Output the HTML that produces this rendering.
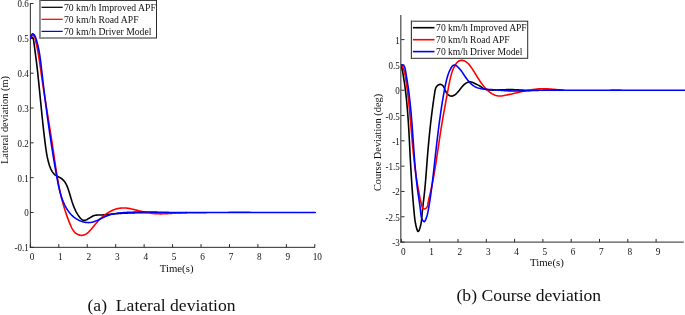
<!DOCTYPE html>
<html lang="en"><head><meta charset="utf-8"><title>Lateral and course deviation</title>
<style>
html,body{margin:0;padding:0;background:#fff;}
body{width:685px;height:315px;position:relative;overflow:hidden;font-family:"Liberation Serif","Times New Roman",serif;}
svg text{font-family:"Liberation Serif","Times New Roman",serif;}
</style></head><body>
<svg width="685" height="315" viewBox="0 0 685 315" style="display:block;position:absolute;left:0;top:0">
<rect x="0" y="0" width="685" height="315" fill="#fff"/>
<defs><clipPath id="cl"><rect x="30" y="0" width="290" height="247"/></clipPath><clipPath id="cr"><rect x="401" y="14" width="284" height="228"/></clipPath></defs>
<g stroke="#2a2a2a" stroke-width="1" fill="none" shape-rendering="auto">
<line x1="30.35" y1="3.02" x2="30.35" y2="247.83"/>
<line x1="29.85" y1="247.33" x2="315.10" y2="247.33"/>
<line x1="30.35" y1="247.33" x2="30.35" y2="244.13"/>
<line x1="58.80" y1="247.33" x2="58.80" y2="244.13"/>
<line x1="87.24" y1="247.33" x2="87.24" y2="244.13"/>
<line x1="115.69" y1="247.33" x2="115.69" y2="244.13"/>
<line x1="144.13" y1="247.33" x2="144.13" y2="244.13"/>
<line x1="172.57" y1="247.33" x2="172.57" y2="244.13"/>
<line x1="201.02" y1="247.33" x2="201.02" y2="244.13"/>
<line x1="229.47" y1="247.33" x2="229.47" y2="244.13"/>
<line x1="257.91" y1="247.33" x2="257.91" y2="244.13"/>
<line x1="286.36" y1="247.33" x2="286.36" y2="244.13"/>
<line x1="314.80" y1="247.33" x2="314.80" y2="244.13"/>
<line x1="30.35" y1="247.33" x2="33.550000000000004" y2="247.33"/>
<line x1="30.35" y1="212.50" x2="33.550000000000004" y2="212.50"/>
<line x1="30.35" y1="177.67" x2="33.550000000000004" y2="177.67"/>
<line x1="30.35" y1="142.84" x2="33.550000000000004" y2="142.84"/>
<line x1="30.35" y1="108.01" x2="33.550000000000004" y2="108.01"/>
<line x1="30.35" y1="73.18" x2="33.550000000000004" y2="73.18"/>
<line x1="30.35" y1="38.35" x2="33.550000000000004" y2="38.35"/>
<line x1="30.35" y1="3.52" x2="33.550000000000004" y2="3.52"/>
</g>
<g stroke="#2a2a2a" stroke-width="1" fill="none">
<line x1="400.8" y1="15" x2="400.8" y2="242.68" stroke="#555" stroke-width="1.3"/>
<line x1="400.2" y1="242.08" x2="683.8" y2="242.08" stroke="#555" stroke-width="1.3"/>
<line x1="401.40" y1="242.08" x2="401.40" y2="238.88"/>
<line x1="429.70" y1="242.08" x2="429.70" y2="238.88"/>
<line x1="458.00" y1="242.08" x2="458.00" y2="238.88"/>
<line x1="486.30" y1="242.08" x2="486.30" y2="238.88"/>
<line x1="514.60" y1="242.08" x2="514.60" y2="238.88"/>
<line x1="542.90" y1="242.08" x2="542.90" y2="238.88"/>
<line x1="571.20" y1="242.08" x2="571.20" y2="238.88"/>
<line x1="599.50" y1="242.08" x2="599.50" y2="238.88"/>
<line x1="627.80" y1="242.08" x2="627.80" y2="238.88"/>
<line x1="656.10" y1="242.08" x2="656.10" y2="238.88"/>
<line x1="401.3" y1="242.08" x2="404.5" y2="242.08"/>
<line x1="401.3" y1="216.77" x2="404.5" y2="216.77"/>
<line x1="401.3" y1="191.46" x2="404.5" y2="191.46"/>
<line x1="401.3" y1="166.15" x2="404.5" y2="166.15"/>
<line x1="401.3" y1="140.84" x2="404.5" y2="140.84"/>
<line x1="401.3" y1="115.53" x2="404.5" y2="115.53"/>
<line x1="401.3" y1="90.22" x2="404.5" y2="90.22"/>
<line x1="401.3" y1="64.91" x2="404.5" y2="64.91"/>
<line x1="401.3" y1="39.60" x2="404.5" y2="39.60"/>
</g>
<g fill="none" stroke-width="1.6" stroke-linejoin="round" stroke-linecap="round" clip-path="url(#cl)">
<path stroke="#000" d="M30.70,38.35 L31.21,37.70 L31.65,37.33 L32.05,37.21 L32.39,37.31 L32.70,37.61 L32.96,38.09 L33.19,38.71 L33.40,39.45 L33.57,40.29 L33.73,41.19 L33.87,42.14 L34.00,43.10 L34.13,44.06 L34.25,44.99 L34.37,45.90 L34.48,46.78 L34.60,47.64 L34.71,48.49 L34.82,49.31 L34.92,50.11 L35.02,50.90 L35.13,51.67 L35.23,52.42 L35.32,53.16 L35.42,53.89 L35.51,54.60 L35.60,55.30 L35.69,55.99 L35.78,56.68 L35.87,57.35 L35.96,58.02 L36.04,58.68 L36.12,59.33 L36.21,59.99 L36.29,60.64 L36.37,61.28 L36.45,61.93 L36.53,62.58 L36.61,63.22 L36.69,63.87 L36.77,64.53 L36.85,65.19 L36.92,65.85 L37.00,66.51 L37.08,67.18 L37.16,67.85 L37.23,68.53 L37.31,69.21 L37.39,69.89 L37.47,70.58 L37.54,71.27 L37.62,71.96 L37.70,72.65 L37.77,73.35 L37.85,74.05 L37.92,74.75 L38.00,75.46 L38.07,76.17 L38.15,76.88 L38.22,77.59 L38.30,78.30 L38.37,79.02 L38.45,79.74 L38.52,80.46 L38.60,81.18 L38.67,81.91 L38.75,82.63 L38.82,83.36 L38.89,84.09 L38.97,84.82 L39.04,85.55 L39.12,86.28 L39.19,87.02 L39.26,87.75 L39.34,88.49 L39.41,89.22 L39.48,89.96 L39.55,90.69 L39.63,91.43 L39.70,92.17 L39.77,92.91 L39.85,93.65 L39.92,94.39 L39.99,95.12 L40.06,95.86 L40.14,96.60 L40.21,97.34 L40.28,98.08 L40.35,98.81 L40.42,99.55 L40.50,100.29 L40.57,101.02 L40.64,101.76 L40.71,102.49 L40.79,103.22 L40.86,103.95 L40.93,104.68 L41.00,105.41 L41.07,106.14 L41.15,106.87 L41.22,107.59 L41.29,108.31 L41.36,109.04 L41.43,109.76 L41.51,110.48 L41.58,111.20 L41.65,111.92 L41.72,112.64 L41.80,113.36 L41.87,114.07 L41.94,114.79 L42.02,115.51 L42.09,116.22 L42.16,116.94 L42.24,117.65 L42.31,118.36 L42.39,119.08 L42.46,119.79 L42.54,120.50 L42.61,121.21 L42.69,121.92 L42.76,122.63 L42.84,123.34 L42.91,124.05 L42.99,124.76 L43.07,125.47 L43.15,126.18 L43.22,126.89 L43.30,127.60 L43.38,128.31 L43.46,129.02 L43.54,129.73 L43.62,130.44 L43.70,131.14 L43.78,131.85 L43.86,132.56 L43.95,133.27 L44.03,133.98 L44.11,134.69 L44.19,135.40 L44.28,136.11 L44.36,136.83 L44.45,137.54 L44.54,138.25 L44.62,138.96 L44.71,139.68 L44.80,140.39 L44.89,141.10 L44.98,141.82 L45.07,142.54 L45.16,143.25 L45.25,143.97 L45.34,144.69 L45.43,145.41 L45.53,146.12 L45.62,146.84 L45.72,147.56 L45.82,148.29 L45.92,149.01 L46.03,149.73 L46.14,150.45 L46.25,151.17 L46.36,151.89 L46.48,152.61 L46.60,153.33 L46.72,154.05 L46.85,154.77 L46.99,155.49 L47.12,156.21 L47.27,156.93 L47.42,157.64 L47.57,158.36 L47.73,159.07 L47.90,159.79 L48.07,160.50 L48.25,161.21 L48.44,161.92 L48.63,162.63 L48.83,163.34 L49.04,164.04 L49.25,164.75 L49.48,165.45 L49.71,166.15 L49.96,166.84 L50.22,167.52 L50.49,168.19 L50.78,168.86 L51.09,169.51 L51.41,170.15 L51.75,170.77 L52.11,171.37 L52.50,171.96 L52.90,172.53 L53.33,173.08 L53.79,173.60 L54.27,174.10 L54.78,174.57 L55.32,175.02 L55.89,175.44 L56.49,175.82 L57.12,176.18 L57.78,176.51 L58.45,176.84 L59.12,177.16 L59.78,177.50 L60.42,177.86 L61.04,178.25 L61.63,178.67 L62.20,179.11 L62.73,179.58 L63.24,180.07 L63.72,180.59 L64.17,181.13 L64.60,181.69 L65.01,182.27 L65.39,182.87 L65.76,183.49 L66.10,184.12 L66.42,184.76 L66.73,185.42 L67.03,186.09 L67.31,186.77 L67.58,187.45 L67.83,188.14 L68.08,188.84 L68.32,189.54 L68.55,190.24 L68.78,190.95 L69.00,191.65 L69.22,192.35 L69.43,193.06 L69.64,193.76 L69.85,194.46 L70.06,195.16 L70.27,195.85 L70.48,196.55 L70.68,197.25 L70.89,197.94 L71.10,198.63 L71.31,199.33 L71.52,200.01 L71.74,200.70 L71.95,201.39 L72.18,202.07 L72.40,202.75 L72.63,203.43 L72.87,204.11 L73.11,204.79 L73.36,205.46 L73.61,206.13 L73.87,206.79 L74.14,207.46 L74.42,208.12 L74.71,208.78 L75.00,209.43 L75.31,210.09 L75.63,210.74 L75.95,211.38 L76.29,212.02 L76.65,212.66 L77.01,213.30 L77.39,213.93 L77.78,214.56 L78.18,215.18 L78.60,215.80 L79.04,216.41 L79.49,217.03 L79.96,217.63 L80.44,218.21 L80.94,218.76 L81.47,219.25 L82.01,219.67 L82.58,220.00 L83.18,220.24 L83.79,220.35 L84.44,220.34 L85.10,220.23 L85.77,220.02 L86.44,219.75 L87.12,219.43 L87.79,219.07 L88.45,218.68 L89.10,218.28 L89.75,217.87 L90.40,217.47 L91.04,217.07 L91.69,216.69 L92.35,216.33 L93.00,216.01 L93.67,215.73 L94.35,215.50 L95.03,215.33 L95.73,215.20 L96.43,215.11 L97.14,215.06 L97.86,215.02 L98.58,215.01 L99.30,215.00 L100.02,215.00 L100.74,214.99 L101.47,214.97 L102.19,214.94 L102.91,214.91 L103.63,214.86 L104.36,214.81 L105.08,214.76 L105.80,214.70 L106.52,214.63 L107.24,214.56 L107.96,214.49 L108.68,214.42 L109.40,214.35 L110.12,214.27 L110.84,214.20 L111.56,214.13 L112.28,214.06 L113.00,213.99 L113.72,213.93 L114.44,213.87 L115.16,213.81 L115.88,213.75 L116.60,213.69 L117.32,213.64 L118.04,213.59 L118.76,213.54 L119.48,213.49 L120.20,213.44 L120.92,213.40 L121.64,213.36 L122.37,213.32 L123.09,213.28 L123.81,213.24 L124.53,213.20 L125.25,213.17 L125.97,213.14 L126.70,213.11 L127.42,213.08 L128.14,213.05 L128.86,213.02 L129.58,212.99 L130.31,212.97 L131.03,212.94 L131.75,212.92 L132.47,212.90 L133.20,212.88 L133.92,212.86 L134.64,212.84 L135.36,212.82 L136.08,212.80 L136.81,212.78 L137.53,212.76 L138.25,212.75 L138.97,212.73 L139.70,212.71 L140.42,212.70 L141.14,212.68 L141.86,212.67 L142.59,212.66 L143.31,212.64 L144.03,212.63 L144.75,212.62 L145.48,212.60 L146.20,212.59 L146.92,212.58 L147.65,212.57 L148.37,212.56 L149.09,212.55 L149.81,212.54 L150.54,212.53 L151.26,212.52 L151.98,212.51 L152.70,212.50 L153.43,212.49 L154.15,212.48 L154.87,212.47 L155.60,212.47 L156.32,212.46 L157.04,212.45 L157.76,212.45"/>
<path stroke="#f00" d="M30.70,38.35 L30.60,36.87 L31.06,35.97 L31.86,35.54 L32.76,35.50 L33.53,35.74 L34.09,36.19 L34.49,36.80 L34.77,37.51 L34.98,38.28 L35.19,39.06 L35.39,39.84 L35.58,40.62 L35.77,41.40 L35.96,42.19 L36.14,42.97 L36.31,43.75 L36.49,44.53 L36.66,45.31 L36.82,46.10 L36.99,46.88 L37.15,47.66 L37.30,48.45 L37.46,49.23 L37.61,50.02 L37.75,50.80 L37.90,51.59 L38.04,52.37 L38.18,53.16 L38.31,53.94 L38.45,54.73 L38.58,55.51 L38.71,56.30 L38.84,57.08 L38.96,57.87 L39.09,58.66 L39.21,59.44 L39.33,60.23 L39.45,61.02 L39.57,61.80 L39.68,62.59 L39.80,63.38 L39.91,64.16 L40.02,64.95 L40.14,65.74 L40.25,66.52 L40.36,67.31 L40.47,68.10 L40.58,68.88 L40.69,69.67 L40.80,70.46 L40.91,71.25 L41.02,72.03 L41.13,72.82 L41.24,73.61 L41.35,74.39 L41.46,75.18 L41.58,75.97 L41.69,76.75 L41.80,77.54 L41.92,78.32 L42.03,79.11 L42.15,79.90 L42.26,80.68 L42.38,81.47 L42.49,82.25 L42.61,83.04 L42.73,83.83 L42.85,84.61 L42.97,85.40 L43.08,86.18 L43.20,86.97 L43.32,87.75 L43.44,88.54 L43.57,89.32 L43.69,90.11 L43.81,90.90 L43.93,91.68 L44.05,92.47 L44.17,93.25 L44.30,94.04 L44.42,94.82 L44.54,95.61 L44.67,96.39 L44.79,97.18 L44.92,97.96 L45.04,98.75 L45.17,99.53 L45.29,100.32 L45.42,101.10 L45.54,101.89 L45.67,102.67 L45.80,103.45 L45.92,104.24 L46.05,105.02 L46.18,105.81 L46.30,106.59 L46.43,107.38 L46.56,108.16 L46.68,108.95 L46.81,109.73 L46.94,110.52 L47.07,111.30 L47.19,112.09 L47.32,112.87 L47.45,113.66 L47.58,114.44 L47.70,115.23 L47.83,116.01 L47.96,116.80 L48.09,117.58 L48.21,118.37 L48.34,119.15 L48.47,119.94 L48.60,120.72 L48.72,121.51 L48.85,122.29 L48.98,123.08 L49.10,123.86 L49.23,124.65 L49.36,125.43 L49.48,126.22 L49.61,127.00 L49.74,127.79 L49.86,128.57 L49.99,129.36 L50.11,130.15 L50.24,130.93 L50.37,131.72 L50.49,132.50 L50.61,133.29 L50.74,134.07 L50.86,134.86 L50.99,135.65 L51.11,136.43 L51.23,137.22 L51.36,138.01 L51.48,138.79 L51.60,139.58 L51.72,140.37 L51.84,141.15 L51.97,141.94 L52.09,142.73 L52.21,143.51 L52.33,144.30 L52.45,145.09 L52.56,145.87 L52.68,146.66 L52.80,147.45 L52.92,148.24 L53.03,149.02 L53.15,149.81 L53.27,150.60 L53.38,151.39 L53.50,152.18 L53.61,152.97 L53.73,153.75 L53.84,154.54 L53.96,155.33 L54.07,156.12 L54.19,156.91 L54.30,157.70 L54.41,158.48 L54.53,159.27 L54.64,160.06 L54.76,160.85 L54.87,161.64 L54.99,162.42 L55.10,163.21 L55.22,164.00 L55.34,164.79 L55.46,165.58 L55.57,166.36 L55.69,167.15 L55.81,167.94 L55.93,168.72 L56.05,169.51 L56.18,170.30 L56.30,171.08 L56.42,171.87 L56.55,172.66 L56.67,173.44 L56.80,174.23 L56.93,175.01 L57.06,175.80 L57.19,176.58 L57.32,177.36 L57.46,178.15 L57.59,178.93 L57.73,179.71 L57.87,180.50 L58.01,181.28 L58.15,182.06 L58.30,182.84 L58.44,183.62 L58.59,184.40 L58.74,185.18 L58.89,185.96 L59.05,186.74 L59.20,187.52 L59.36,188.30 L59.52,189.08 L59.68,189.85 L59.85,190.63 L60.01,191.41 L60.18,192.18 L60.35,192.96 L60.53,193.73 L60.71,194.50 L60.89,195.28 L61.07,196.05 L61.25,196.82 L61.44,197.59 L61.63,198.36 L61.82,199.13 L62.02,199.90 L62.22,200.67 L62.42,201.44 L62.63,202.20 L62.84,202.97 L63.05,203.74 L63.27,204.50 L63.48,205.26 L63.70,206.03 L63.93,206.79 L64.16,207.55 L64.39,208.31 L64.62,209.07 L64.86,209.83 L65.10,210.59 L65.35,211.35 L65.59,212.10 L65.85,212.86 L66.10,213.61 L66.36,214.37 L66.62,215.12 L66.89,215.87 L67.16,216.62 L67.43,217.37 L67.71,218.12 L67.99,218.87 L68.27,219.61 L68.56,220.36 L68.85,221.11 L69.15,221.85 L69.45,222.59 L69.75,223.33 L70.06,224.07 L70.37,224.81 L70.69,225.55 L71.01,226.29 L71.34,227.02 L71.68,227.74 L72.04,228.46 L72.43,229.15 L72.84,229.83 L73.28,230.49 L73.76,231.13 L74.27,231.73 L74.84,232.31 L75.44,232.85 L76.10,233.36 L76.79,233.82 L77.52,234.23 L78.27,234.59 L79.04,234.88 L79.81,235.11 L80.58,235.27 L81.35,235.35 L82.10,235.34 L82.84,235.26 L83.55,235.10 L84.26,234.87 L84.95,234.58 L85.62,234.23 L86.28,233.82 L86.93,233.37 L87.56,232.87 L88.18,232.34 L88.79,231.78 L89.39,231.19 L89.97,230.57 L90.54,229.95 L91.11,229.31 L91.66,228.66 L92.20,228.02 L92.73,227.38 L93.25,226.74 L93.76,226.12 L94.27,225.50 L94.78,224.89 L95.29,224.28 L95.79,223.68 L96.30,223.09 L96.81,222.50 L97.32,221.92 L97.84,221.34 L98.37,220.77 L98.91,220.20 L99.46,219.64 L100.03,219.09 L100.60,218.54 L101.18,217.99 L101.77,217.46 L102.37,216.93 L102.98,216.41 L103.60,215.90 L104.23,215.40 L104.87,214.91 L105.51,214.43 L106.17,213.96 L106.83,213.51 L107.50,213.07 L108.17,212.64 L108.86,212.23 L109.55,211.83 L110.25,211.45 L110.95,211.08 L111.66,210.73 L112.38,210.40 L113.10,210.09 L113.83,209.79 L114.56,209.52 L115.30,209.26 L116.05,209.03 L116.80,208.81 L117.55,208.62 L118.31,208.45 L119.07,208.30 L119.83,208.18 L120.60,208.08 L121.38,208.01 L122.15,207.96 L122.93,207.94 L123.71,207.94 L124.50,207.96 L125.28,208.01 L126.07,208.07 L126.86,208.16 L127.65,208.26 L128.44,208.38 L129.24,208.51 L130.03,208.66 L130.83,208.81 L131.63,208.98 L132.42,209.16 L133.22,209.35 L134.01,209.54 L134.81,209.74 L135.61,209.94 L136.40,210.14 L137.19,210.35 L137.98,210.55 L138.78,210.75 L139.56,210.95 L140.35,211.15 L141.13,211.34 L141.92,211.53 L142.70,211.70 L143.48,211.88 L144.26,212.05 L145.03,212.21 L145.81,212.36 L146.58,212.51 L147.36,212.65 L148.13,212.79 L148.91,212.92 L149.68,213.04 L150.46,213.15 L151.23,213.25 L152.01,213.35 L152.79,213.44 L153.56,213.52 L154.34,213.59 L155.12,213.65 L155.91,213.70 L156.69,213.74 L157.48,213.78 L158.26,213.80 L159.05,213.82 L159.84,213.83 L160.63,213.83 L161.43,213.83 L162.22,213.82 L163.02,213.80 L163.81,213.78 L164.61,213.75 L165.41,213.72 L166.20,213.69 L167.00,213.65 L167.80,213.61 L168.60,213.57 L169.40,213.52 L170.20,213.47 L171.00,213.42 L171.80,213.37 L172.60,213.32 L173.41,213.27 L174.21,213.22 L175.01,213.17 L175.80,213.12 L177.93,213.01 L180.05,212.90 L182.17,212.81 L184.28,212.73 L186.40,212.66"/>
<path stroke="#00f" d="M30.70,38.35 L31.05,36.57 L31.44,35.31 L31.87,34.48 L32.30,34.02 L32.75,33.87 L33.18,33.96 L33.60,34.21 L33.99,34.58 L34.35,35.03 L34.68,35.56 L35.00,36.15 L35.29,36.80 L35.56,37.50 L35.82,38.22 L36.07,38.97 L36.30,39.73 L36.53,40.49 L36.75,41.24 L36.96,42.00 L37.17,42.75 L37.37,43.51 L37.56,44.26 L37.75,45.01 L37.93,45.76 L38.10,46.50 L38.27,47.25 L38.43,47.99 L38.59,48.74 L38.74,49.48 L38.89,50.22 L39.03,50.96 L39.17,51.70 L39.30,52.44 L39.43,53.18 L39.55,53.92 L39.67,54.65 L39.79,55.39 L39.90,56.13 L40.02,56.86 L40.12,57.59 L40.23,58.33 L40.33,59.06 L40.43,59.79 L40.52,60.52 L40.62,61.26 L40.71,61.99 L40.80,62.72 L40.89,63.45 L40.97,64.18 L41.06,64.91 L41.15,65.64 L41.23,66.37 L41.31,67.10 L41.40,67.83 L41.48,68.56 L41.56,69.29 L41.64,70.02 L41.73,70.75 L41.81,71.48 L41.89,72.21 L41.98,72.94 L42.06,73.68 L42.14,74.41 L42.23,75.14 L42.31,75.87 L42.40,76.60 L42.48,77.34 L42.57,78.07 L42.65,78.80 L42.74,79.53 L42.82,80.27 L42.91,81.00 L43.00,81.73 L43.08,82.47 L43.17,83.20 L43.26,83.93 L43.34,84.67 L43.43,85.40 L43.52,86.13 L43.61,86.87 L43.70,87.60 L43.78,88.34 L43.87,89.07 L43.96,89.81 L44.05,90.54 L44.14,91.28 L44.23,92.01 L44.32,92.75 L44.41,93.48 L44.50,94.22 L44.59,94.95 L44.68,95.69 L44.77,96.42 L44.87,97.16 L44.96,97.89 L45.05,98.63 L45.14,99.37 L45.24,100.10 L45.33,100.84 L45.42,101.57 L45.52,102.31 L45.61,103.05 L45.70,103.78 L45.80,104.52 L45.89,105.26 L45.99,105.99 L46.08,106.73 L46.18,107.47 L46.27,108.20 L46.37,108.94 L46.47,109.68 L46.56,110.41 L46.66,111.15 L46.76,111.89 L46.86,112.62 L46.96,113.36 L47.05,114.10 L47.15,114.83 L47.25,115.57 L47.35,116.31 L47.45,117.04 L47.55,117.78 L47.65,118.52 L47.75,119.26 L47.85,119.99 L47.95,120.73 L48.06,121.47 L48.16,122.20 L48.26,122.94 L48.36,123.68 L48.47,124.42 L48.57,125.15 L48.67,125.89 L48.78,126.63 L48.88,127.36 L48.99,128.10 L49.09,128.84 L49.20,129.57 L49.30,130.31 L49.41,131.05 L49.51,131.78 L49.62,132.52 L49.73,133.26 L49.84,134.00 L49.94,134.73 L50.05,135.47 L50.16,136.20 L50.27,136.94 L50.38,137.68 L50.49,138.41 L50.60,139.15 L50.71,139.89 L50.82,140.62 L50.93,141.36 L51.04,142.09 L51.15,142.83 L51.27,143.57 L51.38,144.30 L51.49,145.04 L51.61,145.77 L51.72,146.51 L51.83,147.24 L51.95,147.98 L52.06,148.71 L52.18,149.45 L52.30,150.18 L52.41,150.92 L52.53,151.65 L52.65,152.39 L52.76,153.12 L52.88,153.86 L53.00,154.59 L53.12,155.33 L53.24,156.06 L53.36,156.79 L53.48,157.53 L53.60,158.26 L53.72,158.99 L53.84,159.73 L53.96,160.46 L54.08,161.19 L54.21,161.93 L54.33,162.66 L54.45,163.39 L54.58,164.12 L54.70,164.86 L54.83,165.59 L54.95,166.32 L55.08,167.05 L55.20,167.78 L55.33,168.52 L55.46,169.25 L55.58,169.98 L55.71,170.71 L55.84,171.44 L55.97,172.17 L56.10,172.90 L56.23,173.63 L56.36,174.36 L56.49,175.09 L56.62,175.82 L56.75,176.55 L56.88,177.28 L57.01,178.01 L57.15,178.74 L57.28,179.46 L57.41,180.19 L57.55,180.92 L57.69,181.65 L57.83,182.37 L57.97,183.10 L58.11,183.82 L58.26,184.55 L58.41,185.27 L58.56,186.00 L58.71,186.72 L58.87,187.44 L59.03,188.16 L59.20,188.88 L59.37,189.60 L59.55,190.31 L59.72,191.03 L59.91,191.74 L60.10,192.46 L60.29,193.17 L60.50,193.88 L60.70,194.59 L60.92,195.29 L61.13,196.00 L61.36,196.70 L61.59,197.40 L61.83,198.10 L62.08,198.80 L62.34,199.50 L62.60,200.19 L62.87,200.88 L63.15,201.57 L63.44,202.26 L63.74,202.94 L64.05,203.63 L64.36,204.31 L64.69,204.98 L65.02,205.65 L65.37,206.32 L65.73,206.98 L66.09,207.63 L66.47,208.28 L66.86,208.92 L67.26,209.56 L67.67,210.18 L68.09,210.80 L68.53,211.40 L68.98,212.00 L69.44,212.59 L69.91,213.16 L70.40,213.73 L70.90,214.28 L71.41,214.82 L71.94,215.35 L72.48,215.86 L73.03,216.36 L73.60,216.85 L74.19,217.32 L74.79,217.77 L75.40,218.21 L76.02,218.63 L76.66,219.03 L77.31,219.41 L77.97,219.78 L78.64,220.12 L79.31,220.45 L80.00,220.76 L80.69,221.04 L81.39,221.30 L82.10,221.54 L82.81,221.76 L83.52,221.95 L84.24,222.12 L84.97,222.26 L85.69,222.38 L86.42,222.47 L87.14,222.54 L87.87,222.57 L88.60,222.58 L89.32,222.57 L90.04,222.52 L90.76,222.44 L91.47,222.33 L92.19,222.20 L92.89,222.03 L93.59,221.83 L94.29,221.62 L94.99,221.37 L95.68,221.11 L96.37,220.83 L97.06,220.54 L97.74,220.23 L98.43,219.91 L99.11,219.58 L99.80,219.24 L100.48,218.90 L101.16,218.55 L101.84,218.20 L102.53,217.86 L103.21,217.51 L103.89,217.17 L104.58,216.84 L105.27,216.52 L105.96,216.22 L106.66,215.92 L107.35,215.64 L108.06,215.38 L108.76,215.14 L109.46,214.91 L110.17,214.69 L110.89,214.49 L111.60,214.30 L112.32,214.13 L113.04,213.96 L113.76,213.81 L114.48,213.67 L115.20,213.54 L115.93,213.42 L116.66,213.31 L117.39,213.21 L118.12,213.12 L118.85,213.03 L119.59,212.95 L120.32,212.88 L121.06,212.81 L121.79,212.75 L122.53,212.69 L123.27,212.64 L124.00,212.59 L124.74,212.55 L125.48,212.50 L126.22,212.46 L126.96,212.42 L127.70,212.38 L128.44,212.35 L129.17,212.31 L129.91,212.28 L130.65,212.25 L131.39,212.23 L132.13,212.20 L132.87,212.18 L133.61,212.16 L134.35,212.14 L135.09,212.12 L135.83,212.10 L136.57,212.09 L137.31,212.08 L138.06,212.07 L138.80,212.06 L139.54,212.05 L140.28,212.04 L141.02,212.04 L141.76,212.03 L142.50,212.03 L143.24,212.03 L143.99,212.03 L144.73,212.03 L145.47,212.03 L146.21,212.04 L146.95,212.04 L147.70,212.05 L148.44,212.05 L149.18,212.06 L149.92,212.07 L150.66,212.08 L151.41,212.09 L152.15,212.10 L152.89,212.11 L153.64,212.12 L154.38,212.13 L155.12,212.14 L155.86,212.16 L156.61,212.17 L157.35,212.19 L158.09,212.20 L158.83,212.21 L159.58,212.23 L160.32,212.24 L161.06,212.26 L161.81,212.28 L162.55,212.29 L163.29,212.31 L164.04,212.32 L164.78,212.34 L165.52,212.35 L166.26,212.37 L167.01,212.39 L167.75,212.40 L168.49,212.41 L169.24,212.43 L169.98,212.44 L170.72,212.46 L171.47,212.47 L172.21,212.48 L172.95,212.50 L175.14,212.53 L177.33,212.56 L179.52,212.58 L181.71,212.60 L183.90,212.61 L186.09,212.62 L188.28,212.63 L190.47,212.63 L192.65,212.63 L194.84,212.63 L197.03,212.63 L199.22,212.62 L201.41,212.61 L203.59,212.60 L205.78,212.59 L207.97,212.57 L210.16,212.56 L212.34,212.54 L214.53,212.53 L216.72,212.51 L218.91,212.49 L221.09,212.48 L223.28,212.46 L225.47,212.45 L227.66,212.43 L229.84,212.42 L232.03,212.41 L234.22,212.40 L236.41,212.40 L238.60,212.39 L240.79,212.39 L242.97,212.39 L245.16,212.40 L247.35,212.40 L249.54,212.41 L251.73,212.43 L253.92,212.45 L256.11,212.47 L258.30,212.50 L315.20,212.50"/>
</g>
<g fill="none" stroke-width="1.6" stroke-linejoin="round" stroke-linecap="round" clip-path="url(#cr)">
<path stroke="#000" d="M401.30,64.91 L401.52,65.98 L401.73,67.05 L401.94,68.13 L402.15,69.20 L402.35,70.27 L402.55,71.35 L402.74,72.42 L402.93,73.50 L403.12,74.57 L403.30,75.65 L403.48,76.72 L403.65,77.80 L403.83,78.87 L403.99,79.95 L404.16,81.03 L404.32,82.10 L404.47,83.18 L404.63,84.26 L404.78,85.33 L404.93,86.41 L405.07,87.49 L405.21,88.57 L405.35,89.65 L405.48,90.72 L405.61,91.80 L405.74,92.88 L405.87,93.96 L405.99,95.04 L406.11,96.12 L406.23,97.20 L406.35,98.28 L406.46,99.36 L406.57,100.44 L406.68,101.52 L406.78,102.61 L406.88,103.69 L406.98,104.77 L407.08,105.85 L407.18,106.93 L407.27,108.02 L407.37,109.10 L407.46,110.18 L407.54,111.27 L407.63,112.35 L407.71,113.43 L407.80,114.52 L407.88,115.60 L407.96,116.69 L408.03,117.77 L408.11,118.86 L408.18,119.94 L408.26,121.03 L408.33,122.11 L408.40,123.20 L408.47,124.29 L408.54,125.37 L408.60,126.46 L408.67,127.55 L408.73,128.63 L408.80,129.72 L408.86,130.81 L408.92,131.90 L408.98,132.98 L409.04,134.07 L409.10,135.16 L409.16,136.25 L409.22,137.34 L409.27,138.43 L409.33,139.52 L409.39,140.61 L409.44,141.70 L409.50,142.79 L409.55,143.88 L409.61,144.97 L409.66,146.06 L409.72,147.15 L409.77,148.24 L409.83,149.34 L409.88,150.43 L409.94,151.52 L410.00,152.61 L410.05,153.71 L410.11,154.80 L410.16,155.89 L410.22,156.98 L410.28,158.08 L410.33,159.17 L410.39,160.27 L410.45,161.36 L410.51,162.45 L410.57,163.55 L410.63,164.64 L410.69,165.74 L410.76,166.83 L410.82,167.93 L410.88,169.02 L410.95,170.12 L411.01,171.21 L411.08,172.30 L411.14,173.40 L411.21,174.49 L411.28,175.58 L411.35,176.68 L411.42,177.77 L411.49,178.86 L411.56,179.95 L411.63,181.04 L411.70,182.13 L411.77,183.22 L411.85,184.31 L411.92,185.40 L412.00,186.49 L412.08,187.57 L412.15,188.66 L412.23,189.75 L412.31,190.83 L412.39,191.91 L412.47,192.99 L412.56,194.08 L412.64,195.15 L412.72,196.23 L412.81,197.31 L412.89,198.39 L412.98,199.46 L413.07,200.54 L413.16,201.61 L413.25,202.68 L413.34,203.75 L413.43,204.81 L413.52,205.88 L413.62,206.95 L413.71,208.01 L413.81,209.07 L413.90,210.13 L414.00,211.19 L414.10,212.24 L414.20,213.30 L414.30,214.35 L414.40,215.40 L414.51,216.45 L414.63,217.51 L414.75,218.58 L414.89,219.66 L415.05,220.75 L415.22,221.87 L415.42,223.00 L415.64,224.17 L415.89,225.36 L416.17,226.58 L416.49,227.85 L416.84,229.10 L417.23,230.22 L417.64,231.05 L418.07,231.44 L418.52,231.28 L418.98,230.61 L419.42,229.59 L419.84,228.35 L420.22,227.06 L420.54,225.81 L420.82,224.61 L421.05,223.45 L421.25,222.33 L421.41,221.24 L421.55,220.17 L421.66,219.13 L421.76,218.10 L421.85,217.08 L421.93,216.06 L422.01,215.05 L422.10,214.02 L422.19,212.99 L422.28,211.95 L422.39,210.90 L422.50,209.85 L422.61,208.78 L422.73,207.71 L422.85,206.64 L422.98,205.56 L423.10,204.47 L423.23,203.39 L423.36,202.29 L423.49,201.20 L423.63,200.10 L423.76,199.00 L423.89,197.90 L424.01,196.80 L424.14,195.70 L424.26,194.60 L424.38,193.50 L424.49,192.40 L424.61,191.30 L424.72,190.20 L424.82,189.10 L424.93,188.01 L425.03,186.91 L425.13,185.82 L425.23,184.72 L425.33,183.63 L425.42,182.53 L425.52,181.44 L425.61,180.35 L425.70,179.25 L425.79,178.16 L425.87,177.07 L425.96,175.98 L426.04,174.89 L426.13,173.81 L426.21,172.72 L426.29,171.63 L426.38,170.54 L426.46,169.46 L426.54,168.37 L426.62,167.29 L426.70,166.20 L426.79,165.12 L426.87,164.04 L426.95,162.95 L427.03,161.87 L427.12,160.79 L427.20,159.71 L427.28,158.63 L427.37,157.55 L427.46,156.47 L427.54,155.39 L427.63,154.32 L427.72,153.24 L427.81,152.16 L427.90,151.09 L428.00,150.01 L428.09,148.93 L428.18,147.86 L428.28,146.78 L428.37,145.71 L428.47,144.63 L428.57,143.56 L428.67,142.48 L428.77,141.40 L428.87,140.33 L428.97,139.25 L429.08,138.18 L429.18,137.10 L429.29,136.03 L429.40,134.95 L429.50,133.87 L429.61,132.80 L429.73,131.72 L429.84,130.64 L429.95,129.56 L430.07,128.48 L430.19,127.40 L430.30,126.33 L430.42,125.24 L430.54,124.16 L430.67,123.08 L430.79,122.00 L430.92,120.92 L431.04,119.83 L431.17,118.75 L431.30,117.66 L431.43,116.57 L431.56,115.49 L431.70,114.40 L431.84,113.31 L431.97,112.22 L432.11,111.13 L432.25,110.03 L432.40,108.94 L432.54,107.84 L432.69,106.75 L432.84,105.65 L432.99,104.55 L433.14,103.45 L433.29,102.35 L433.45,101.24 L433.60,100.14 L433.76,99.03 L433.92,97.92 L434.09,96.81 L434.25,95.70 L434.42,94.59 L434.59,93.47 L434.76,92.35 L434.94,91.24 L435.15,90.16 L435.42,89.11 L435.75,88.12 L436.16,87.21 L436.69,86.38 L437.33,85.66 L438.12,85.07 L439.06,84.62 L440.10,84.40 L441.13,84.53 L442.09,84.99 L442.91,85.68 L443.55,86.53 L444.06,87.48 L444.50,88.52 L444.91,89.59 L445.38,90.68 L445.93,91.75 L446.58,92.77 L447.30,93.71 L448.10,94.54 L448.95,95.23 L449.84,95.75 L450.77,96.06 L451.72,96.14 L452.68,95.97 L453.64,95.58 L454.58,95.02 L455.50,94.33 L456.37,93.55 L457.18,92.74 L457.95,91.89 L458.68,91.03 L459.38,90.16 L460.07,89.29 L460.74,88.42 L461.41,87.57 L462.10,86.74 L462.81,85.93 L463.56,85.17 L464.34,84.45 L465.18,83.78 L466.08,83.16 L467.06,82.63 L468.08,82.20 L469.13,81.93 L470.20,81.85 L471.25,82.00 L472.29,82.32 L473.32,82.75 L474.34,83.23 L475.34,83.71 L476.33,84.16 L477.31,84.62 L478.27,85.10 L479.22,85.63 L480.16,86.22 L481.09,86.87 L482.02,87.52 L482.97,88.12 L483.94,88.63 L484.93,89.04 L485.95,89.37 L486.99,89.63 L488.05,89.81 L489.11,89.94 L490.19,90.02 L491.28,90.07 L492.37,90.08 L493.46,90.08 L494.56,90.06 L495.65,90.03 L496.74,90.00 L497.83,89.97 L498.92,89.93 L500.01,89.88 L501.10,89.84 L502.18,89.80 L503.27,89.76 L504.36,89.72 L505.44,89.68 L506.53,89.65 L507.61,89.63 L508.70,89.61 L509.79,89.61 L510.87,89.61 L511.96,89.63 L513.05,89.66 L514.14,89.70 L515.22,89.74 L516.31,89.80 L517.40,89.86 L518.49,89.92 L519.58,89.99 L520.67,90.05 L521.76,90.10 L522.85,90.15 L523.94,90.20 L525.03,90.24 L526.12,90.28 L527.21,90.31 L528.30,90.34 L529.39,90.36"/>
<path stroke="#f00" d="M401.30,64.91 L401.91,65.77 L402.45,66.67 L402.93,67.59 L403.35,68.53 L403.72,69.49 L404.05,70.48 L404.34,71.48 L404.59,72.49 L404.81,73.52 L405.02,74.55 L405.20,75.59 L405.38,76.64 L405.55,77.69 L405.72,78.73 L405.88,79.78 L406.04,80.83 L406.20,81.88 L406.35,82.93 L406.50,83.98 L406.65,85.03 L406.80,86.08 L406.94,87.13 L407.08,88.18 L407.22,89.24 L407.36,90.29 L407.49,91.34 L407.62,92.40 L407.75,93.45 L407.88,94.50 L408.00,95.56 L408.12,96.62 L408.24,97.67 L408.36,98.73 L408.48,99.78 L408.59,100.84 L408.71,101.90 L408.82,102.95 L408.93,104.01 L409.03,105.07 L409.14,106.13 L409.24,107.18 L409.35,108.24 L409.45,109.30 L409.55,110.36 L409.65,111.42 L409.75,112.47 L409.85,113.53 L409.94,114.59 L410.04,115.65 L410.13,116.71 L410.23,117.77 L410.32,118.83 L410.41,119.88 L410.50,120.94 L410.59,122.00 L410.68,123.06 L410.77,124.12 L410.86,125.18 L410.95,126.23 L411.04,127.29 L411.13,128.35 L411.22,129.41 L411.31,130.46 L411.40,131.52 L411.49,132.58 L411.58,133.63 L411.67,134.69 L411.76,135.74 L411.85,136.80 L411.94,137.85 L412.03,138.91 L412.12,139.96 L412.22,141.02 L412.31,142.07 L412.40,143.12 L412.50,144.18 L412.59,145.23 L412.69,146.28 L412.79,147.33 L412.89,148.38 L412.99,149.43 L413.09,150.48 L413.19,151.53 L413.29,152.58 L413.40,153.63 L413.51,154.67 L413.61,155.72 L413.72,156.77 L413.83,157.81 L413.95,158.86 L414.06,159.90 L414.18,160.94 L414.30,161.98 L414.42,163.03 L414.54,164.07 L414.67,165.11 L414.79,166.15 L414.92,167.19 L415.06,168.23 L415.19,169.27 L415.33,170.31 L415.46,171.35 L415.61,172.39 L415.75,173.43 L415.90,174.47 L416.05,175.51 L416.20,176.56 L416.36,177.60 L416.51,178.64 L416.68,179.69 L416.84,180.73 L417.01,181.78 L417.18,182.82 L417.36,183.87 L417.53,184.92 L417.71,185.97 L417.90,187.03 L418.09,188.08 L418.28,189.14 L418.48,190.19 L418.68,191.25 L418.88,192.31 L419.09,193.38 L419.30,194.44 L419.51,195.51 L419.73,196.58 L419.96,197.65 L420.19,198.72 L420.42,199.80 L420.65,200.88 L420.90,201.96 L421.14,203.04 L421.39,204.13 L421.65,205.22 L421.93,206.28 L422.27,207.25 L422.71,208.06 L423.30,208.64 L424.06,208.94 L424.91,208.87 L425.75,208.46 L426.50,207.78 L427.08,206.93 L427.50,205.96 L427.79,204.89 L428.01,203.76 L428.19,202.61 L428.37,201.47 L428.57,200.37 L428.79,199.29 L429.02,198.24 L429.26,197.21 L429.51,196.18 L429.76,195.16 L430.01,194.14 L430.25,193.12 L430.48,192.10 L430.72,191.07 L430.95,190.05 L431.18,189.02 L431.40,187.99 L431.62,186.96 L431.83,185.93 L432.05,184.90 L432.26,183.87 L432.47,182.83 L432.67,181.80 L432.87,180.76 L433.07,179.73 L433.26,178.69 L433.46,177.65 L433.65,176.61 L433.84,175.57 L434.02,174.53 L434.21,173.49 L434.39,172.45 L434.57,171.41 L434.74,170.36 L434.92,169.32 L435.09,168.27 L435.26,167.23 L435.43,166.18 L435.60,165.13 L435.77,164.09 L435.93,163.04 L436.10,161.99 L436.26,160.94 L436.42,159.89 L436.58,158.84 L436.74,157.80 L436.90,156.75 L437.05,155.70 L437.21,154.65 L437.37,153.60 L437.52,152.54 L437.68,151.49 L437.83,150.44 L437.99,149.39 L438.14,148.34 L438.29,147.29 L438.45,146.24 L438.60,145.19 L438.76,144.14 L438.91,143.09 L439.06,142.04 L439.22,140.99 L439.37,139.94 L439.53,138.89 L439.68,137.84 L439.84,136.79 L440.00,135.74 L440.16,134.69 L440.32,133.64 L440.48,132.60 L440.64,131.55 L440.80,130.50 L440.97,129.46 L441.13,128.41 L441.30,127.37 L441.47,126.32 L441.64,125.28 L441.81,124.23 L441.98,123.19 L442.16,122.15 L442.33,121.11 L442.51,120.07 L442.69,119.03 L442.87,117.99 L443.05,116.95 L443.23,115.91 L443.42,114.87 L443.60,113.83 L443.79,112.79 L443.98,111.75 L444.16,110.71 L444.35,109.67 L444.54,108.63 L444.73,107.59 L444.92,106.55 L445.11,105.51 L445.30,104.47 L445.50,103.43 L445.69,102.39 L445.88,101.35 L446.07,100.30 L446.26,99.26 L446.46,98.22 L446.65,97.17 L446.84,96.12 L447.03,95.08 L447.22,94.03 L447.41,92.98 L447.60,91.93 L447.80,90.88 L447.99,89.83 L448.18,88.78 L448.38,87.74 L448.58,86.69 L448.78,85.64 L448.99,84.60 L449.20,83.56 L449.41,82.52 L449.63,81.48 L449.86,80.45 L450.09,79.43 L450.33,78.40 L450.58,77.38 L450.83,76.37 L451.09,75.36 L451.37,74.36 L451.65,73.37 L451.96,72.38 L452.28,71.39 L452.63,70.41 L453.01,69.44 L453.42,68.46 L453.87,67.50 L454.36,66.53 L454.90,65.57 L455.49,64.61 L456.13,63.66 L456.83,62.76 L457.59,61.95 L458.42,61.27 L459.30,60.76 L460.26,60.45 L461.25,60.32 L462.27,60.36 L463.29,60.55 L464.30,60.88 L465.28,61.33 L466.20,61.89 L467.06,62.53 L467.87,63.25 L468.62,64.03 L469.33,64.86 L470.01,65.72 L470.66,66.60 L471.28,67.49 L471.89,68.37 L472.49,69.26 L473.07,70.15 L473.64,71.04 L474.20,71.93 L474.75,72.82 L475.30,73.71 L475.84,74.59 L476.39,75.48 L476.93,76.36 L477.47,77.24 L478.02,78.12 L478.58,79.00 L479.14,79.87 L479.71,80.74 L480.30,81.61 L480.90,82.47 L481.51,83.33 L482.15,84.19 L482.80,85.05 L483.48,85.90 L484.17,86.74 L484.89,87.57 L485.63,88.38 L486.39,89.18 L487.17,89.95 L487.97,90.69 L488.79,91.41 L489.63,92.08 L490.49,92.72 L491.37,93.31 L492.27,93.85 L493.18,94.35 L494.11,94.78 L495.06,95.16 L496.03,95.47 L497.01,95.71 L498.01,95.88 L499.02,95.97 L500.05,95.99 L501.09,95.94 L502.14,95.83 L503.19,95.68 L504.25,95.50 L505.31,95.30 L506.37,95.08 L507.43,94.86 L508.48,94.63 L509.54,94.40 L510.59,94.17 L511.63,93.93 L512.68,93.69 L513.72,93.45 L514.76,93.21 L515.80,92.97 L516.84,92.73 L517.88,92.48 L518.91,92.25 L519.95,92.01 L520.98,91.78 L522.01,91.55 L523.05,91.32 L524.08,91.10 L525.11,90.89 L526.14,90.68 L527.18,90.48 L528.21,90.28 L529.24,90.10 L530.28,89.92 L531.31,89.75 L532.35,89.60 L533.38,89.45 L534.42,89.32 L535.46,89.19 L536.50,89.08 L537.54,88.99 L538.59,88.91 L539.63,88.84 L540.68,88.79 L541.73,88.75 L542.78,88.73 L543.84,88.73 L544.90,88.74 L545.96,88.77 L547.02,88.82 L548.08,88.87 L549.15,88.94 L550.21,89.01 L551.28,89.09 L552.35,89.18 L553.42,89.28 L554.49,89.37 L555.55,89.48 L556.62,89.58 L557.69,89.68 L558.76,89.78 L559.83,89.88 L560.90,89.97 L561.96,90.06"/>
<path stroke="#00f" d="M401.30,64.91 L402.39,65.03 L403.26,65.40 L403.93,65.99 L404.44,66.75 L404.82,67.66 L405.11,68.66 L405.33,69.73 L405.53,70.83 L405.71,71.92 L405.90,73.01 L406.08,74.08 L406.26,75.16 L406.43,76.22 L406.61,77.28 L406.78,78.33 L406.95,79.38 L407.12,80.43 L407.28,81.47 L407.44,82.51 L407.60,83.55 L407.76,84.58 L407.92,85.61 L408.07,86.64 L408.22,87.68 L408.36,88.71 L408.51,89.74 L408.65,90.77 L408.79,91.80 L408.92,92.84 L409.05,93.87 L409.19,94.91 L409.31,95.95 L409.44,96.98 L409.56,98.02 L409.68,99.06 L409.80,100.10 L409.92,101.15 L410.03,102.19 L410.14,103.23 L410.25,104.27 L410.36,105.32 L410.46,106.36 L410.57,107.41 L410.67,108.46 L410.77,109.51 L410.87,110.55 L410.96,111.60 L411.06,112.65 L411.15,113.70 L411.24,114.75 L411.33,115.80 L411.42,116.85 L411.51,117.91 L411.60,118.96 L411.68,120.01 L411.77,121.07 L411.85,122.12 L411.93,123.17 L412.01,124.23 L412.09,125.28 L412.17,126.34 L412.25,127.39 L412.33,128.45 L412.41,129.51 L412.48,130.56 L412.56,131.62 L412.63,132.68 L412.71,133.73 L412.78,134.79 L412.86,135.85 L412.93,136.90 L413.00,137.96 L413.08,139.02 L413.15,140.08 L413.22,141.13 L413.30,142.19 L413.37,143.25 L413.44,144.31 L413.52,145.37 L413.59,146.42 L413.66,147.48 L413.74,148.54 L413.81,149.60 L413.89,150.65 L413.97,151.71 L414.04,152.77 L414.12,153.82 L414.20,154.88 L414.28,155.93 L414.35,156.99 L414.43,158.05 L414.52,159.10 L414.60,160.16 L414.68,161.21 L414.77,162.26 L414.85,163.32 L414.94,164.37 L415.03,165.42 L415.11,166.48 L415.21,167.53 L415.30,168.58 L415.39,169.63 L415.49,170.68 L415.58,171.73 L415.68,172.78 L415.78,173.83 L415.88,174.87 L415.99,175.92 L416.09,176.97 L416.20,178.01 L416.31,179.06 L416.42,180.10 L416.54,181.14 L416.65,182.19 L416.77,183.23 L416.89,184.27 L417.02,185.31 L417.14,186.35 L417.27,187.39 L417.40,188.43 L417.53,189.46 L417.67,190.50 L417.81,191.53 L417.95,192.57 L418.09,193.60 L418.24,194.63 L418.39,195.66 L418.54,196.69 L418.70,197.72 L418.86,198.75 L419.01,199.78 L419.17,200.81 L419.33,201.85 L419.48,202.89 L419.63,203.93 L419.78,204.98 L419.93,206.03 L420.07,207.09 L420.20,208.16 L420.33,209.23 L420.46,210.31 L420.57,211.40 L420.68,212.50 L420.79,213.61 L420.92,214.71 L421.08,215.80 L421.30,216.87 L421.58,217.91 L421.95,218.90 L422.43,219.85 L423.03,220.74 L423.72,221.43 L424.38,221.61 L424.94,221.13 L425.42,220.23 L425.85,219.19 L426.24,218.14 L426.59,217.10 L426.91,216.06 L427.20,215.02 L427.46,213.98 L427.71,212.95 L427.93,211.91 L428.14,210.88 L428.33,209.84 L428.52,208.81 L428.71,207.77 L428.88,206.74 L429.06,205.70 L429.23,204.67 L429.40,203.63 L429.57,202.59 L429.74,201.55 L429.90,200.51 L430.06,199.47 L430.21,198.43 L430.37,197.39 L430.52,196.35 L430.67,195.31 L430.82,194.26 L430.96,193.22 L431.11,192.18 L431.25,191.13 L431.39,190.09 L431.52,189.04 L431.66,188.00 L431.79,186.95 L431.93,185.91 L432.06,184.86 L432.19,183.81 L432.31,182.77 L432.44,181.72 L432.57,180.67 L432.69,179.62 L432.81,178.58 L432.93,177.53 L433.06,176.48 L433.18,175.43 L433.30,174.38 L433.41,173.33 L433.53,172.29 L433.65,171.24 L433.77,170.19 L433.88,169.14 L434.00,168.09 L434.12,167.04 L434.23,165.99 L434.35,164.95 L434.46,163.90 L434.58,162.85 L434.69,161.80 L434.81,160.75 L434.93,159.70 L435.04,158.66 L435.16,157.61 L435.27,156.56 L435.39,155.51 L435.51,154.46 L435.62,153.42 L435.74,152.37 L435.86,151.32 L435.98,150.27 L436.09,149.22 L436.21,148.18 L436.33,147.13 L436.45,146.08 L436.57,145.04 L436.69,143.99 L436.81,142.94 L436.93,141.89 L437.06,140.85 L437.18,139.80 L437.30,138.75 L437.43,137.71 L437.55,136.66 L437.68,135.61 L437.81,134.57 L437.93,133.52 L438.06,132.48 L438.19,131.43 L438.32,130.38 L438.45,129.34 L438.59,128.29 L438.72,127.25 L438.85,126.20 L438.99,125.16 L439.13,124.11 L439.26,123.07 L439.40,122.02 L439.54,120.98 L439.68,119.93 L439.83,118.89 L439.97,117.84 L440.12,116.80 L440.26,115.75 L440.41,114.71 L440.56,113.67 L440.71,112.62 L440.87,111.58 L441.02,110.53 L441.18,109.49 L441.33,108.45 L441.49,107.40 L441.65,106.36 L441.81,105.32 L441.98,104.27 L442.14,103.23 L442.31,102.19 L442.48,101.14 L442.65,100.10 L442.83,99.06 L443.00,98.02 L443.18,96.98 L443.36,95.93 L443.54,94.89 L443.72,93.85 L443.91,92.81 L444.09,91.77 L444.28,90.73 L444.48,89.69 L444.67,88.65 L444.87,87.61 L445.08,86.58 L445.29,85.54 L445.51,84.51 L445.73,83.49 L445.96,82.47 L446.20,81.45 L446.45,80.43 L446.70,79.43 L446.96,78.42 L447.24,77.42 L447.52,76.43 L447.82,75.44 L448.14,74.46 L448.49,73.47 L448.86,72.49 L449.27,71.50 L449.72,70.52 L450.21,69.53 L450.74,68.53 L451.33,67.53 L451.98,66.57 L452.70,65.76 L453.48,65.20 L454.34,65.00 L455.27,65.21 L456.24,65.72 L457.20,66.43 L458.11,67.25 L458.94,68.08 L459.69,68.90 L460.38,69.71 L461.01,70.52 L461.61,71.33 L462.17,72.15 L462.73,72.98 L463.28,73.82 L463.85,74.68 L464.42,75.55 L465.02,76.43 L465.63,77.31 L466.26,78.20 L466.90,79.07 L467.56,79.94 L468.25,80.79 L468.95,81.62 L469.68,82.42 L470.42,83.20 L471.19,83.93 L471.99,84.63 L472.81,85.28 L473.65,85.88 L474.52,86.43 L475.42,86.92 L476.35,87.35 L477.30,87.72 L478.27,88.04 L479.26,88.32 L480.27,88.55 L481.30,88.75 L482.34,88.92 L483.39,89.06 L484.46,89.17 L485.52,89.27 L486.60,89.34 L487.68,89.41 L488.76,89.47 L489.84,89.53 L490.91,89.60 L491.98,89.66 L493.05,89.73 L494.12,89.81 L495.18,89.88 L496.23,89.96 L497.29,90.05 L498.34,90.13 L499.39,90.21 L500.43,90.29 L501.48,90.37 L502.53,90.45 L503.57,90.52 L504.61,90.59 L505.66,90.66 L506.70,90.72 L507.74,90.78 L508.79,90.83 L509.83,90.87 L510.88,90.90 L511.92,90.93 L512.97,90.95 L514.02,90.96 L515.07,90.97 L516.12,90.97 L517.17,90.97 L518.22,90.96 L519.28,90.95 L520.33,90.93 L521.38,90.91 L522.44,90.89 L523.49,90.86 L524.55,90.83 L525.60,90.80 L526.66,90.76 L527.71,90.73 L528.77,90.69 L529.83,90.65 L530.88,90.61 L531.94,90.57 L533.00,90.52 L534.06,90.48 L535.11,90.44 L536.17,90.40 L537.23,90.36 L538.28,90.33 L539.34,90.29 L540.40,90.26 L541.46,90.23 L542.51,90.20 L543.57,90.17 L545.76,90.13 L547.95,90.10 L550.14,90.09 L552.32,90.08 L554.51,90.09 L556.70,90.10 L558.88,90.11 L561.07,90.13 L563.25,90.16 L565.44,90.18 L567.62,90.21 L569.81,90.23 L571.99,90.25 L574.18,90.27 L576.37,90.28 L578.56,90.28 L580.74,90.29 L582.93,90.29 L585.12,90.29 L587.31,90.28 L589.50,90.27 L591.69,90.27 L593.88,90.26 L596.07,90.25 L598.26,90.23 L600.45,90.22 L602.64,90.21 L604.83,90.20 L607.02,90.19 L609.21,90.18 L611.40,90.17 L613.59,90.17 L615.78,90.17 L617.97,90.17 L620.15,90.17 L622.34,90.18 L624.53,90.19 L626.71,90.20 L628.90,90.22 L685.80,90.22"/>
</g>
<g font-family="'Liberation Serif', 'Times New Roman', serif" fill="#111">
<rect x="39.95" y="0.4" width="116.55" height="37.6" fill="#fff" stroke="#2a2a2a" stroke-width="1"/>
<line x1="39.95" y1="0.4" x2="39.95" y2="38.0" stroke="#fff" stroke-width="1.6"/>
<line x1="39.95" y1="-0.09999999999999998" x2="39.95" y2="38.5" stroke="#555" stroke-width="1.2"/>
<line x1="41.5" y1="7.3" x2="62.7" y2="7.3" stroke="#000" stroke-width="1.25"/>
<text x="64" y="10.50" font-size="9.7">70 km/h Improved APF</text>
<line x1="41.5" y1="19.3" x2="62.7" y2="19.3" stroke="#f00" stroke-width="1.25"/>
<text x="64" y="22.50" font-size="9.7">70 km/h Road APF</text>
<line x1="41.5" y1="31.4" x2="62.7" y2="31.4" stroke="#00f" stroke-width="1.25"/>
<text x="64" y="34.60" font-size="9.7">70 km/h Driver Model</text>
<rect x="411.4" y="21.2" width="116.30000000000007" height="37.099999999999994" fill="#fff" stroke="#2a2a2a" stroke-width="1"/>
<line x1="411.4" y1="21.2" x2="411.4" y2="58.3" stroke="#fff" stroke-width="1.6"/>
<line x1="411.4" y1="20.7" x2="411.4" y2="58.8" stroke="#2a2a2a" stroke-width="1"/>
<line x1="412.9" y1="27.7" x2="434.5" y2="27.7" stroke="#000" stroke-width="1.6"/>
<text x="436.1" y="30.86" font-size="9.57">70 km/h Improved APF</text>
<line x1="412.9" y1="39.7" x2="434.5" y2="39.7" stroke="#f00" stroke-width="1.6"/>
<text x="436.1" y="42.86" font-size="9.57">70 km/h Road APF</text>
<line x1="412.9" y1="51.6" x2="434.5" y2="51.6" stroke="#00f" stroke-width="1.6"/>
<text x="436.1" y="54.76" font-size="9.57">70 km/h Driver Model</text>
<text transform="translate(32.00,260.2) scale(0.93,1)" font-size="10" text-anchor="middle">0</text>
<text transform="translate(60.43,260.2) scale(0.93,1)" font-size="10" text-anchor="middle">1</text>
<text transform="translate(88.86,260.2) scale(0.93,1)" font-size="10" text-anchor="middle">2</text>
<text transform="translate(117.29,260.2) scale(0.93,1)" font-size="10" text-anchor="middle">3</text>
<text transform="translate(145.72,260.2) scale(0.93,1)" font-size="10" text-anchor="middle">4</text>
<text transform="translate(174.15,260.2) scale(0.93,1)" font-size="10" text-anchor="middle">5</text>
<text transform="translate(202.58,260.2) scale(0.93,1)" font-size="10" text-anchor="middle">6</text>
<text transform="translate(231.01,260.2) scale(0.93,1)" font-size="10" text-anchor="middle">7</text>
<text transform="translate(259.44,260.2) scale(0.93,1)" font-size="10" text-anchor="middle">8</text>
<text transform="translate(287.87,260.2) scale(0.93,1)" font-size="10" text-anchor="middle">9</text>
<text transform="translate(317.30,260.2) scale(0.93,1)" font-size="10" text-anchor="middle">10</text>
<text transform="translate(28.75,251.23) scale(0.9,1)" font-size="10" text-anchor="end">-0.1</text>
<text transform="translate(28.75,216.40) scale(0.9,1)" font-size="10" text-anchor="end">0</text>
<text transform="translate(28.75,181.57) scale(0.9,1)" font-size="10" text-anchor="end">0.1</text>
<text transform="translate(28.75,146.74) scale(0.9,1)" font-size="10" text-anchor="end">0.2</text>
<text transform="translate(28.75,111.91) scale(0.9,1)" font-size="10" text-anchor="end">0.3</text>
<text transform="translate(28.75,77.08) scale(0.9,1)" font-size="10" text-anchor="end">0.4</text>
<text transform="translate(28.75,42.25) scale(0.9,1)" font-size="10" text-anchor="end">0.5</text>
<text transform="translate(28.75,7.42) scale(0.9,1)" font-size="10" text-anchor="end">0.6</text>
<text transform="translate(403.30,254.5) scale(0.93,1)" font-size="10" text-anchor="middle">0</text>
<text transform="translate(431.60,254.5) scale(0.93,1)" font-size="10" text-anchor="middle">1</text>
<text transform="translate(459.90,254.5) scale(0.93,1)" font-size="10" text-anchor="middle">2</text>
<text transform="translate(488.20,254.5) scale(0.93,1)" font-size="10" text-anchor="middle">3</text>
<text transform="translate(516.50,254.5) scale(0.93,1)" font-size="10" text-anchor="middle">4</text>
<text transform="translate(544.80,254.5) scale(0.93,1)" font-size="10" text-anchor="middle">5</text>
<text transform="translate(573.10,254.5) scale(0.93,1)" font-size="10" text-anchor="middle">6</text>
<text transform="translate(601.40,254.5) scale(0.93,1)" font-size="10" text-anchor="middle">7</text>
<text transform="translate(629.70,254.5) scale(0.93,1)" font-size="10" text-anchor="middle">8</text>
<text transform="translate(658.00,254.5) scale(0.93,1)" font-size="10" text-anchor="middle">9</text>
<text transform="translate(399.70,246.08) scale(0.9,1)" font-size="10" text-anchor="end">-3</text>
<text transform="translate(399.70,220.77) scale(0.9,1)" font-size="10" text-anchor="end">-2.5</text>
<text transform="translate(399.70,195.46) scale(0.9,1)" font-size="10" text-anchor="end">-2</text>
<text transform="translate(399.70,170.15) scale(0.9,1)" font-size="10" text-anchor="end">-1.5</text>
<text transform="translate(399.70,144.84) scale(0.9,1)" font-size="10" text-anchor="end">-1</text>
<text transform="translate(399.70,119.53) scale(0.9,1)" font-size="10" text-anchor="end">-0.5</text>
<text transform="translate(399.70,94.22) scale(0.9,1)" font-size="10" text-anchor="end">0</text>
<text transform="translate(399.70,68.91) scale(0.9,1)" font-size="10" text-anchor="end">0.5</text>
<text transform="translate(399.70,43.60) scale(0.9,1)" font-size="10" text-anchor="end">1</text>
<text x="176.6" y="271.6" font-size="10.8" text-anchor="middle">Time(s)</text>
<text x="546.9" y="265.9" font-size="10.8" text-anchor="middle">Time(s)</text>
<text transform="translate(7.7,120.0) rotate(-90) scale(0.96,1)" font-size="10.8" text-anchor="middle">Lateral deviation (m)</text>
<text transform="translate(380.8,142.5) rotate(-90) scale(0.96,1)" font-size="10.8" text-anchor="middle">Course Deviation (deg)</text>
<text x="87.5" y="311.4" font-size="17.6" xml:space="preserve">(a)  Lateral deviation</text>
<text x="456.5" y="301" font-size="17.6">(b) Course deviation</text>
</g>
</svg>
</body></html>
